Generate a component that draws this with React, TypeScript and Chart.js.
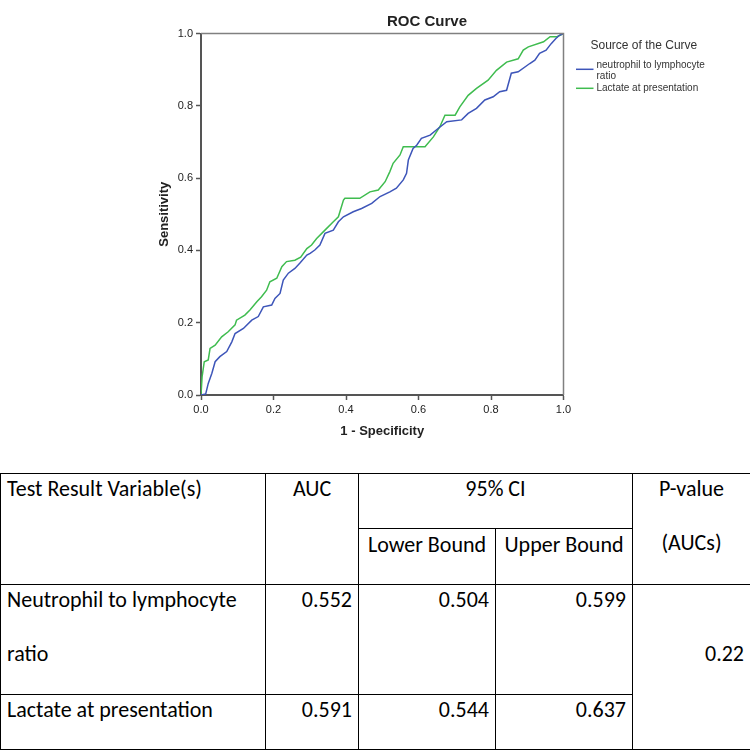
import React, { useEffect, useRef } from 'react';
import { Chart, registerables } from 'chart.js';

Chart.register(...registerables);

// ---- ROC data (1 - specificity, sensitivity) ----
const nlrFpr = [0, 0.013, 0.02, 0.03, 0.039, 0.052, 0.071, 0.085, 0.094, 0.117, 0.14, 0.158, 0.172, 0.195, 0.204, 0.218, 0.227, 0.241, 0.259, 0.273, 0.292, 0.301, 0.314, 0.328, 0.342, 0.365, 0.379, 0.393, 0.42, 0.443, 0.471, 0.494, 0.521, 0.539, 0.558, 0.567, 0.572, 0.585, 0.595, 0.608, 0.632, 0.655, 0.678, 0.719, 0.737, 0.76, 0.783, 0.806, 0.824, 0.843, 0.856, 0.875, 0.907, 0.921, 0.934, 0.952, 0.966, 0.979, 0.989, 1];
const nlrTpr = [0, 0.003, 0.032, 0.06, 0.092, 0.106, 0.12, 0.147, 0.17, 0.184, 0.207, 0.217, 0.244, 0.249, 0.267, 0.281, 0.318, 0.337, 0.35, 0.365, 0.387, 0.392, 0.401, 0.415, 0.447, 0.456, 0.479, 0.493, 0.507, 0.516, 0.53, 0.549, 0.562, 0.572, 0.595, 0.613, 0.65, 0.682, 0.691, 0.71, 0.719, 0.738, 0.756, 0.761, 0.779, 0.793, 0.816, 0.825, 0.839, 0.843, 0.89, 0.894, 0.917, 0.926, 0.945, 0.954, 0.972, 0.986, 0.995, 1];

const lacFpr = [0, 0.003, 0.009, 0.02, 0.025, 0.039, 0.057, 0.075, 0.094, 0.098, 0.121, 0.135, 0.154, 0.167, 0.181, 0.19, 0.209, 0.223, 0.236, 0.259, 0.275, 0.292, 0.305, 0.319, 0.342, 0.365, 0.379, 0.393, 0.397, 0.438, 0.466, 0.489, 0.508, 0.521, 0.53, 0.549, 0.558, 0.618, 0.641, 0.659, 0.673, 0.701, 0.714, 0.737, 0.76, 0.792, 0.815, 0.843, 0.875, 0.889, 0.903, 0.945, 0.963, 0.982, 1];
const lacTpr = [0, 0.05, 0.092, 0.097, 0.129, 0.138, 0.161, 0.175, 0.194, 0.207, 0.221, 0.235, 0.258, 0.272, 0.29, 0.313, 0.323, 0.355, 0.369, 0.373, 0.381, 0.405, 0.415, 0.433, 0.456, 0.479, 0.493, 0.539, 0.544, 0.544, 0.562, 0.567, 0.59, 0.618, 0.641, 0.664, 0.687, 0.687, 0.714, 0.742, 0.774, 0.774, 0.797, 0.829, 0.848, 0.871, 0.898, 0.921, 0.93, 0.954, 0.963, 0.977, 0.991, 0.991, 1];

const seriesNames = ['neutrophil to lymphocyte ratio', 'Lactate at presentation'];
const legendLines = [['neutrophil to lymphocyte', 'ratio'], ['Lactate at presentation']];
const seriesColors = ['#3d55b9', '#3fbc4f'];
const tickValues = [0, 0.2, 0.4, 0.6, 0.8, 1.0];
const chartTitle = 'ROC Curve';
const legendTitle = 'Source of the Curve';
const xTitle = '1 - Specificity';
const yTitle = 'Sensitivity';

// ---- table data ----
const headVariable = 'Test Result Variable(s)';
const headAuc = 'AUC';
const headCi = '95% CI';
const headLower = 'Lower Bound';
const headUpper = 'Upper Bound';
const headP = ['P-value', '(AUCs)'];
const rowNames = [['Neutrophil to lymphocyte', 'ratio'], ['Lactate at presentation']];
const aucValues = ['0.552', '0.591'];
const lowerBounds = ['0.504', '0.544'];
const upperBounds = ['0.599', '0.637'];
const pValue = '0.22';

const ARIAL = "'Liberation Sans', Arial, sans-serif";

const decorPlugin = {
  id: 'decor',
  afterDraw(chart: any) {
    const { ctx, chartArea } = chart;
    ctx.save();
    // frame top and right
    ctx.strokeStyle = '#808080';
    ctx.lineWidth = 1.5;
    ctx.beginPath();
    ctx.moveTo(chartArea.left, chartArea.top);
    ctx.lineTo(chartArea.right, chartArea.top);
    ctx.lineTo(chartArea.right, chartArea.bottom);
    ctx.stroke();
    // title
    ctx.fillStyle = '#222';
    ctx.font = `bold 15px ${ARIAL}`;
    ctx.textAlign = 'center';
    ctx.textBaseline = 'middle';
    ctx.fillText(chartTitle, 427, 21.5);
    // legend
    ctx.textAlign = 'left';
    ctx.fillStyle = '#333';
    ctx.font = `12px ${ARIAL}`;
    ctx.fillText(legendTitle, 590.5, 45.7);
    ctx.font = `10px ${ARIAL}`;
    const itemY = [69.3, 88.3];
    const textY = [65.7, 88.3];
    legendLines.forEach((lines, i) => {
      ctx.strokeStyle = seriesColors[i];
      ctx.lineWidth = 1.5;
      ctx.beginPath();
      ctx.moveTo(576, itemY[i]);
      ctx.lineTo(593.5, itemY[i]);
      ctx.stroke();
      lines.forEach((t, j) => {
        ctx.fillText(t, 596.5, textY[i] + j * 10.3);
      });
    });
    ctx.restore();
  },
};

function RocChart() {
  const ref = useRef<HTMLCanvasElement | null>(null);
  useEffect(() => {
    if (!ref.current) return;
    const mk = (xs: number[], ys: number[]) => xs.map((x, i) => ({ x, y: ys[i] }));
    const axisBase = {
      type: 'linear' as const,
      min: 0,
      max: 1,
      afterBuildTicks: (scale: any) => {
        scale.ticks = tickValues.map((v) => ({ value: v }));
      },
      grid: {
        display: true,
        drawOnChartArea: false,
        drawTicks: true,
        tickLength: 5,
        tickWidth: 1.5,
        color: '#555',
      },
      border: { display: true, color: '#555', width: 2 },
    };
    const chart = new Chart(ref.current, {
      type: 'scatter',
      data: {
        datasets: [
          {
            label: seriesNames[0],
            data: mk(nlrFpr, nlrTpr),
            showLine: true,
            borderColor: seriesColors[0],
            backgroundColor: seriesColors[0],
            borderWidth: 1.5,
            pointRadius: 0,
            tension: 0,
          },
          {
            label: seriesNames[1],
            data: mk(lacFpr, lacTpr),
            showLine: true,
            borderColor: seriesColors[1],
            backgroundColor: seriesColors[1],
            borderWidth: 1.5,
            pointRadius: 0,
            tension: 0,
          },
        ],
      },
      options: {
        animation: false,
        responsive: false,
        devicePixelRatio: 1,
        layout: { padding: { left: 153, right: 186.5, top: 33.5, bottom: 2 } },
        plugins: { legend: { display: false }, title: { display: false }, tooltip: { enabled: false } },
        scales: {
          x: {
            ...axisBase,
            position: 'bottom',
            afterFit: (scale: any) => { scale.height = 48; },
            ticks: {
              color: '#222',
              font: { family: ARIAL, size: 11 },
              padding: 3,
              maxRotation: 0,
              callback: (v: any) => Number(v).toFixed(1),
            },
            title: { display: true, text: xTitle, color: '#222', font: { family: ARIAL, size: 13, weight: 'bold' }, padding: { top: 4, bottom: 4 } },
          },
          y: {
            ...axisBase,
            position: 'left',
            afterFit: (scale: any) => { scale.width = 48; },
            ticks: {
              color: '#222',
              font: { family: ARIAL, size: 11 },
              padding: 3,
              callback: (v: any) => Number(v).toFixed(1),
            },
            title: { display: true, text: yTitle, color: '#222', font: { family: ARIAL, size: 13, weight: 'bold' }, padding: { top: 4, bottom: 4 } },
          },
        },
      } as any,
      plugins: [decorPlugin],
    });
    return () => chart.destroy();
  }, []);
  return <canvas ref={ref} width={750} height={445} style={{ display: 'block', width: 750, height: 445 }} />;
}

const TABLE_FONT = "Carlito, Calibri, 'Liberation Sans Narrow', Lato, sans-serif";
const cell: React.CSSProperties = {
  border: '1px solid #000',
  padding: '0 6px',
  verticalAlign: 'top',
  overflow: 'hidden',
};
const Line = ({ children }: { children?: React.ReactNode }) => (
  <div style={{ height: 54, lineHeight: '30px', whiteSpace: 'nowrap' }}>{children}</div>
);

function ResultTable() {
  return (
    <table
      style={{
        position: 'absolute',
        top: 473,
        left: 0,
        width: 750,
        borderCollapse: 'collapse',
        tableLayout: 'fixed',
        fontFamily: TABLE_FONT,
        fontSize: 22,
        color: '#000',
      }}
    >
      <colgroup>
        <col style={{ width: 265 }} />
        <col style={{ width: 93 }} />
        <col style={{ width: 137 }} />
        <col style={{ width: 137 }} />
        <col style={{ width: 118 }} />
      </colgroup>
      <tbody>
        <tr style={{ height: 55 }}>
          <td rowSpan={2} style={cell}><Line>{headVariable}</Line></td>
          <td rowSpan={2} style={{ ...cell, textAlign: 'center' }}><Line>{headAuc}</Line></td>
          <td colSpan={2} style={{ ...cell, textAlign: 'center' }}><div style={{ lineHeight: '30px' }}>{headCi}</div></td>
          <td rowSpan={2} style={{ ...cell, textAlign: 'center' }}>
            {headP.map((t, i) => <Line key={i}>{t}</Line>)}
          </td>
        </tr>
        <tr style={{ height: 56 }}>
          <td style={{ ...cell, textAlign: 'center' }}><div style={{ lineHeight: '32px' }}>{headLower}</div></td>
          <td style={{ ...cell, textAlign: 'center' }}><div style={{ lineHeight: '32px' }}>{headUpper}</div></td>
        </tr>
        {rowNames.map((name, r) => (
          <tr key={r} style={{ height: r === 0 ? 110 : 55 }}>
            <td style={cell}>{name.map((t, i) => <Line key={i}>{t}</Line>)}</td>
            <td style={{ ...cell, textAlign: 'right' }}><Line>{aucValues[r]}</Line></td>
            <td style={{ ...cell, textAlign: 'right' }}><Line>{lowerBounds[r]}</Line></td>
            <td style={{ ...cell, textAlign: 'right' }}><Line>{upperBounds[r]}</Line></td>
            {r === 0 && (
              <td rowSpan={2} style={{ ...cell, textAlign: 'right' }}>
                <Line />
                <Line>{pValue}</Line>
              </td>
            )}
          </tr>
        ))}
      </tbody>
    </table>
  );
}

export default function App() {
  return (
    <div style={{ position: 'absolute', left: 0, top: 0, width: 750, height: 750, background: '#fff' }}>
      <div style={{ position: 'absolute', left: 0, top: 0 }}>
        <RocChart />
      </div>
      <ResultTable />
    </div>
  );
}
